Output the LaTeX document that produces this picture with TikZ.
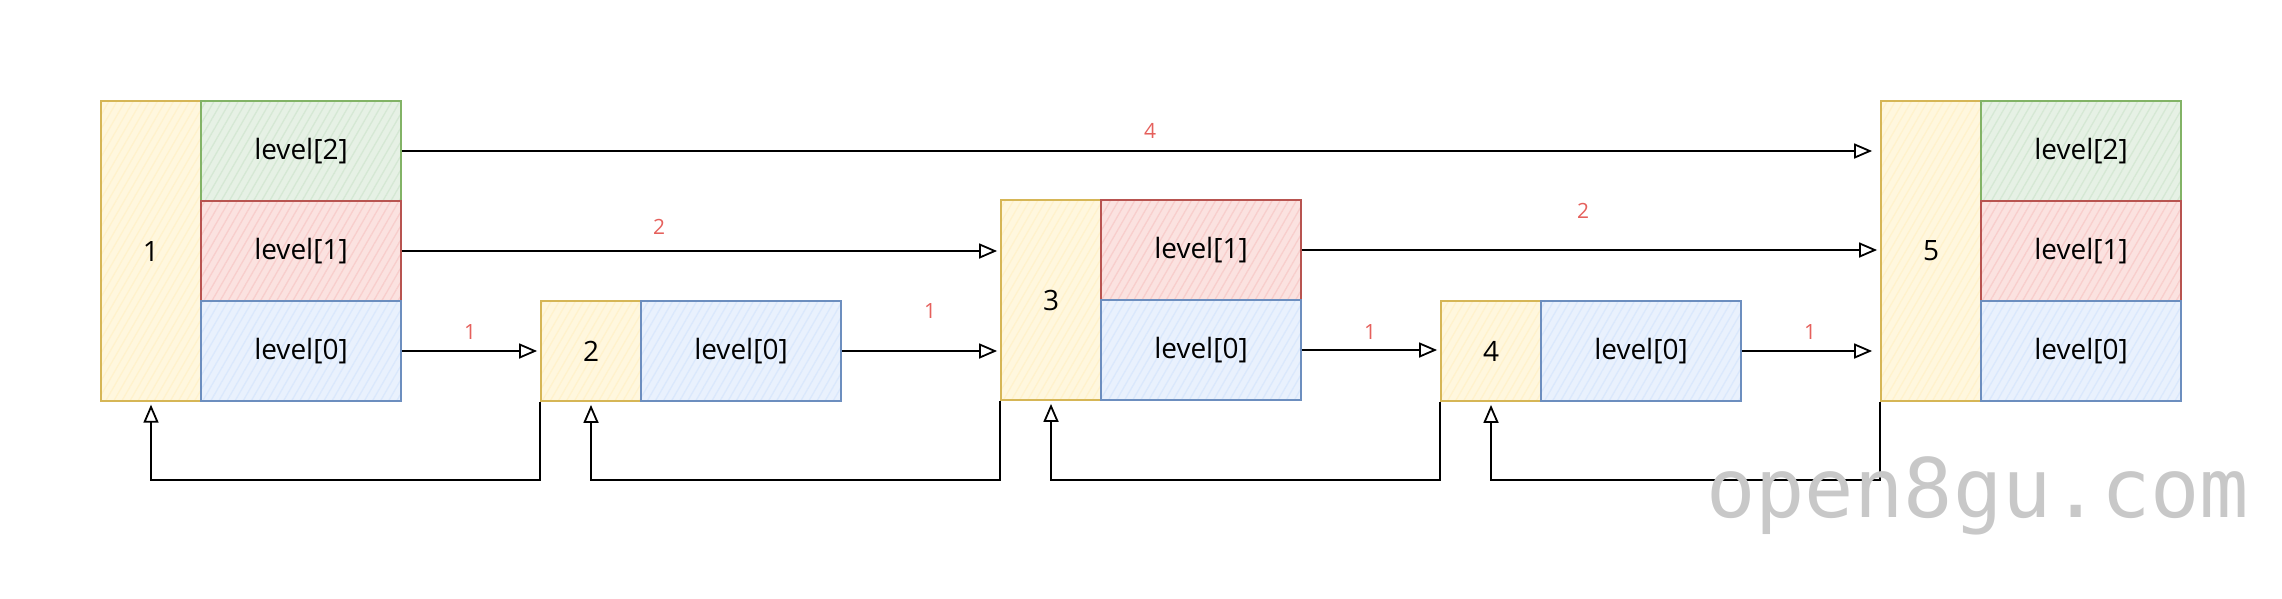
\documentclass[tikz,border=0pt]{standalone}
\usepackage{fontspec}
\setmainfont{Open Sans}
\newfontfamily\wmfont{DejaVu Sans Mono}
\usetikzlibrary{arrows.meta,patterns.meta}
\definecolor{ystroke}{HTML}{D6B656}
\definecolor{yfill}{HTML}{FFF2CC}
\definecolor{gstroke}{HTML}{82B366}
\definecolor{gfill}{HTML}{D5E8D4}
\definecolor{rstroke}{HTML}{B85450}
\definecolor{rfill}{HTML}{F8CECC}
\definecolor{bstroke}{HTML}{6C8EBF}
\definecolor{bfill}{HTML}{DAE8FC}
\definecolor{lbl}{HTML}{E5605C}
\definecolor{wm}{HTML}{C8C8C8}
\begin{document}
\begin{tikzpicture}[x=1pt,y=-1pt,
  box/.style={draw, line width=1.8pt, inner sep=0pt, font=\fontsize{28}{32}\selectfont},
  ybox/.style={box, draw=ystroke, preaction={fill=yfill!65}, pattern={Lines[angle=60,distance=7pt,line width=1.3pt]}, pattern color=yfill, minimum width=100pt},
  gbox/.style={box, draw=gstroke, preaction={fill=gfill!60}, pattern={Lines[angle=60,distance=7pt,line width=1.3pt]}, pattern color=gfill, minimum width=200pt, minimum height=100pt},
  rbox/.style={box, draw=rstroke, preaction={fill=rfill!60}, pattern={Lines[angle=60,distance=7pt,line width=1.3pt]}, pattern color=rfill, minimum width=200pt, minimum height=100pt},
  bbox/.style={box, draw=bstroke, preaction={fill=bfill!60}, pattern={Lines[angle=60,distance=7pt,line width=1.3pt]}, pattern color=bfill, minimum width=200pt, minimum height=100pt},
  arr/.style={draw=black, line width=1.8pt, -{Triangle[open,length=18pt,width=15pt,line width=1.8pt]}},
  weight/.style={text=lbl, font=\fontsize{21}{24}\selectfont},
]
\useasboundingbox (0,0) rectangle (2282,598);
% node 1
\node[ybox, minimum height=300pt] (n1) at (151,251) {1};
\node[gbox] (l12) at (301,151) {level[2]};
\node[rbox] (l11) at (301,251) {level[1]};
\node[bbox] (l10) at (301,351) {level[0]};
% node 2
\node[ybox, minimum height=100pt] (n2) at (591,351) {2};
\node[bbox] (l20) at (741,351) {level[0]};
% node 3
\node[ybox, minimum height=200pt] (n3) at (1051,300) {3};
\node[rbox] (l31) at (1201,250) {level[1]};
\node[bbox] (l30) at (1201,350) {level[0]};
% node 4
\node[ybox, minimum height=100pt] (n4) at (1491,351) {4};
\node[bbox] (l40) at (1641,351) {level[0]};
% node 5
\node[ybox, minimum height=300pt] (n5) at (1931,251) {5};
\node[gbox] (l52) at (2081,151) {level[2]};
\node[rbox] (l51) at (2081,251) {level[1]};
\node[bbox] (l50) at (2081,351) {level[0]};
% forward pointers
\draw[arr, shorten >=8pt] (l12.east) -- (l12.east -| n5.west);
\draw[arr, shorten >=3pt] (l11.east) -- (l11.east -| n3.west);
\draw[arr, shorten >=3pt] (l10.east) -- (l10.east -| n2.west);
\draw[arr, shorten >=3pt] (l20.east) -- (l20.east -| n3.west);
\draw[arr, shorten >=3pt] (l31.east) -- (l31.east -| n5.west);
\draw[arr, shorten >=3pt] (l30.east) -- (l30.east -| n4.west);
\draw[arr, shorten >=8pt] (l40.east) -- (l40.east -| n5.west);
% weights
\node[weight] (w4) at (1150,131) {4};
\node[weight] (w2a) at (659,227) {2};
\node[weight] (w1a) at (470,332) {1};
\node[weight] (w1b) at (930,311) {1};
\node[weight] (w2b) at (1583,211) {2};
\node[weight] (w1c) at (1370,332) {1};
\node[weight] (w1d) at (1810,332) {1};
% backward pointers
\coordinate (base) at (0,480);
\draw[arr, shorten >=3pt] (n2.south west) -- (n2.south west |- base) -| (n1.south);
\draw[arr, shorten >=3pt] (n3.south west) -- (n3.south west |- base) -| (n2.south);
\draw[arr, shorten >=3pt] (n4.south west) -- (n4.south west |- base) -| (n3.south);
\draw[arr, shorten >=3pt] (n5.south west) -- (n5.south west |- base) -| (n4.south);
% watermark
\node[anchor=base west, text=wm, inner sep=0pt, font=\wmfont\fontsize{82}{90}\selectfont] (wmk) at (1706,517) {open8gu.com};
\end{tikzpicture}
\end{document}
